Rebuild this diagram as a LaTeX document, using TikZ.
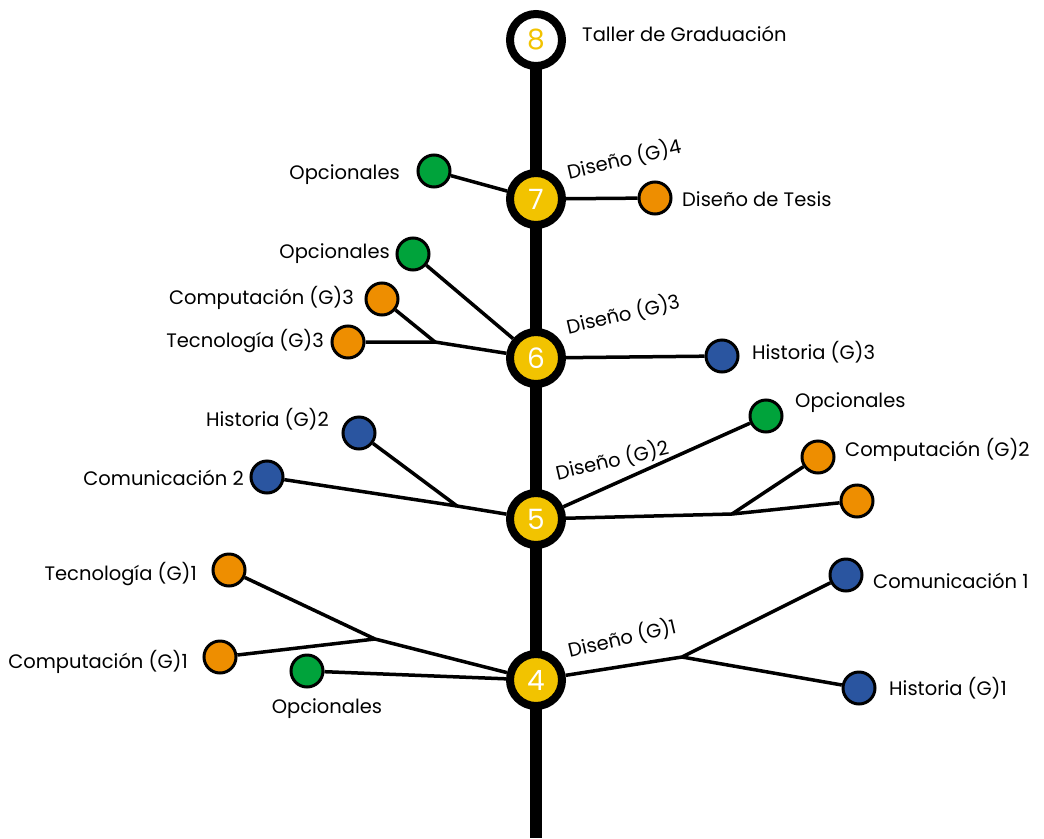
\documentclass[tikz,border=0pt]{standalone}
\usepackage{fontspec}
\setmainfont{Poppins}
\usetikzlibrary{backgrounds}
\definecolor{semyellow}{HTML}{F2C300}
\definecolor{optgreen}{HTML}{00A33B}
\definecolor{techorange}{HTML}{EE8E00}
\definecolor{humblue}{HTML}{2A55A0}
\tikzset{
  semester/.style={circle, draw=black, line width=8pt, fill=semyellow, minimum size=52pt,
    inner sep=0pt, text=white, font=\fontsize{28}{28}\selectfont},
  course/.style={circle, draw=black, line width=3pt, minimum size=32pt, inner sep=0pt},
  opt/.style={course, fill=optgreen},
  tech/.style={course, fill=techorange},
  hum/.style={course, fill=humblue},
  lbl/.style={font=\fontsize{19.5}{19.5}\selectfont, inner sep=0pt, text=black, yshift=-2pt},
  dlbl/.style={lbl, rotate=13},
  branch/.style={line width=3.5pt},
  trunk/.style={line width=12pt}
}
\begin{document}
\begin{tikzpicture}[x=1pt,y=-1pt]
\useasboundingbox (0,0) rectangle (1044,838);

% semesters along the trunk
\node[semester, fill=white, text=semyellow] (n8) at (536,40) {8};
\node[semester] (n7) at (536,199) {7};
\node[semester] (n6) at (536,358) {6};
\node[semester] (n5) at (536,519) {5};
\node[semester] (n4) at (536,680) {4};
\coordinate (base) at (536,838);

% semester 8
\node[lbl, anchor=west] (t8) at (582,32) {Taller de Graduación};

% semester 7
\node[opt]  (o7) at (434,171) {};
\node[tech] (d7) at (655,198) {};
\node[lbl, anchor=east] (lo7) at (400,173) {Opcionales};
\node[lbl, anchor=west] (ld7) at (682,197) {Diseño de Tesis};
\node[dlbl] (g4) at (624,157) {Diseño (G)4};

% semester 6
\node[opt]  (o6) at (413,254) {};
\node[tech] (c3) at (382,299) {};
\node[tech] (t3) at (348,342) {};
\node[hum]  (h3) at (722,356) {};
\coordinate (j6) at (435,342);
\node[lbl, anchor=east] (lo6) at (390,252) {Opcionales};
\node[lbl, anchor=east] (lc3) at (354,296) {Computación (G)3};
\node[lbl, anchor=east] (lt3) at (324,339) {Tecnología (G)3};
\node[lbl, anchor=west] (lh3) at (752,350) {Historia (G)3};
\node[dlbl] (g3) at (623,312) {Diseño (G)3};

% semester 5
\node[hum]  (h2) at (359,433) {};
\node[hum]  (m2) at (267,477) {};
\node[opt]  (o5) at (766,416) {};
\node[tech] (c2) at (818,457) {};
\node[tech] (x5) at (857,501) {};
\coordinate (j5l) at (457,506);
\coordinate (j5r) at (732,514);
\node[lbl, anchor=east] (lh2) at (329,417) {Historia (G)2};
\node[lbl, anchor=east] (lm2) at (244,476) {Comunicación 2};
\node[lbl, anchor=west] (lo5) at (795,401) {Opcionales};
\node[lbl, anchor=west] (lc2) at (845,448) {Computación (G)2};
\node[dlbl] (g2) at (612,458) {Diseño (G)2};

% semester 4
\node[tech] (t1) at (229,570) {};
\node[tech] (c1) at (220,657) {};
\node[opt]  (o4) at (307,671) {};
\node[hum]  (m1) at (846,575) {};
\node[hum]  (h1) at (859,688) {};
\coordinate (j4l) at (375,639);
\coordinate (j4r) at (682,657);
\node[lbl, anchor=east] (lt1) at (197,572) {Tecnología (G)1};
\node[lbl, anchor=east] (lc1) at (188,660) {Computación (G)1};
\node[lbl] (lo4) at (327,707) {Opcionales};
\node[lbl, anchor=west] (lm1) at (873,579) {Comunicación 1};
\node[lbl, anchor=west] (lh1) at (889,686) {Historia (G)1};
\node[dlbl] (g1) at (622,636) {Diseño (G)1};

\begin{scope}[on background layer]
  \draw[trunk] (n8.center) -- (base);
  % semester 7 branches
  \draw[branch] (o7) -- (n7);
  \draw[branch] (n7) -- (d7);
  % semester 6 branches
  \draw[branch] (o6) -- (n6);
  \draw[branch] (t3) -- (j6) -- (n6);
  \draw[branch] (c3) -- (j6);
  \draw[branch] (n6) -- (h3);
  % semester 5 branches
  \draw[branch] (m2) -- (j5l) -- (n5);
  \draw[branch] (h2) -- (j5l);
  \draw[branch] (n5) -- (o5);
  \draw[branch] (n5) -- (j5r) -- (x5);
  \draw[branch] (j5r) -- (c2);
  % semester 4 branches
  \draw[branch] (t1) -- (j4l) -- (n4);
  \draw[branch] (c1) -- (j4l);
  \draw[branch] (o4) -- (n4);
  \draw[branch] (n4) -- (j4r) -- (m1);
  \draw[branch] (j4r) -- (h1);
\end{scope}
\end{tikzpicture}
\end{document}
